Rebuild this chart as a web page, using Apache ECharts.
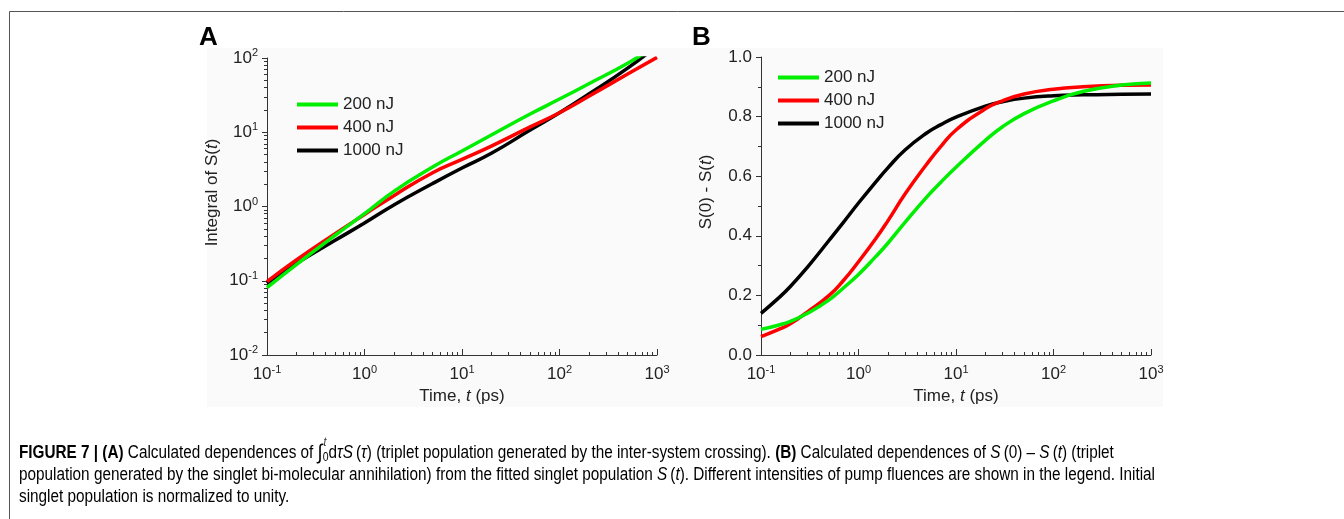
<!DOCTYPE html>
<html>
<head>
<meta charset="utf-8">
<title>Figure 7</title>
<script src="https://cdn.jsdelivr.net/npm/echarts@6.0.0/dist/echarts.min.js"></script>
<style>
html, body { margin: 0; padding: 0; background: #fff; }
#main { width: 1344px; height: 519px; }
</style>
</head>
<body>
<div id="main"></div>
<script>
var FONT = '"Liberation Sans", Arial, sans-serif';

// 图例
var names = ['200 nJ', '400 nJ', '1000 nJ'];
var colors = ['#00ee00', '#ff0000', '#000000'];

// (A) integral of S(t), log-log
var timeA = [0.1, 0.2, 0.5, 1, 2, 5, 10, 20, 50, 100, 200, 500, 1000];
var intGreen = [0.081, 0.165, 0.41, 0.8, 1.6, 3.4, 5.6, 9.2, 17.6, 28, 45, 85, 150];
var intRed = [0.097, 0.19, 0.43, 0.78, 1.4, 2.85, 4.3, 6.5, 11.8, 18.3, 30.5, 61, 102];
var intBlack = [0.092, 0.17, 0.35, 0.6, 1.05, 2.04, 3.3, 5.2, 10.7, 18.3, 32.7, 73, 146];

// (B) S(0) - S(t)
var timeB = [0.1, 0.15, 0.2, 0.3, 0.5, 0.7, 1, 1.5, 2, 3, 5, 7, 10, 20, 30, 50, 100, 200, 500, 1000];
var diffGreen = [0.086, 0.1, 0.113, 0.14, 0.185, 0.225, 0.27, 0.33, 0.375, 0.445, 0.53, 0.58, 0.63, 0.72, 0.766, 0.81, 0.853, 0.884, 0.906, 0.913];
var diffRed = [0.062, 0.085, 0.105, 0.145, 0.2, 0.25, 0.313, 0.39, 0.45, 0.54, 0.64, 0.7, 0.755, 0.826, 0.853, 0.876, 0.892, 0.9, 0.905, 0.906];
var diffBlack = [0.14, 0.19, 0.23, 0.295, 0.385, 0.445, 0.51, 0.58, 0.628, 0.688, 0.745, 0.773, 0.798, 0.835, 0.85, 0.862, 0.87, 0.873, 0.875, 0.876];

// 刻度
var xDecades = [0.1, 1, 10, 100, 1000];
var yDecadesA = [0.01, 0.1, 1, 10, 100];

// 图注
var caption = [
    [['b', 'FIGURE 7 | (A)'], ['r', ' Calculated dependences of '], ['int', '\u222B'], ['sub', '0'], ['r', 'd'], ['i', '\u03C4'], ['i', 'S'],
     ['r', '\u2009('], ['i', '\u03C4'], ['r', ') (triplet population generated by the inter-system crossing). '], ['b', '(B)'],
     ['r', ' Calculated dependences of '], ['i', 'S'], ['r', '\u2009(0) \u2013 '], ['i', 'S'], ['r', '\u2009('], ['i', 't'], ['r', ') (triplet']],
    [['r', 'population generated by the singlet bi-molecular annihilation) from the fitted singlet population '], ['i', 'S'], ['r', '\u2009('], ['i', 't'],
     ['r', '). Different intensities of pump fluences are shown in the legend. Initial']],
    [['r', 'singlet population is normalized to unity.']]
];

function pairs(t, v) {
    var out = [];
    for (var i = 0; i < t.length; i++) {
        out.push([t[i], v[i]]);
    }
    return out;
}

// 对数次刻度 2..9
function minorLog(decades) {
    var out = [];
    for (var i = 0; i < decades.length - 1; i++) {
        for (var m = 2; m <= 9; m++) {
            out.push(+(decades[i] * m).toPrecision(3));
        }
    }
    return out;
}

var supRich = {
    n: { fontSize: 17, fontFamily: FONT, color: '#222' },
    s: { fontSize: 11, fontFamily: FONT, color: '#222', padding: [0, 0, 10, 0] }
};
function powLabel(v) {
    var e = Math.round(Math.log(v) / Math.LN10);
    return '{n|10}{s|' + e + '}';
}

var nameStyle = {
    fontSize: 17, fontFamily: FONT, color: '#222',
    rich: { i: { fontSize: 17, fontFamily: FONT, color: '#222', fontStyle: 'italic' } }
};
var lineAx = { show: true, onZero: false, lineStyle: { color: '#333', width: 1 } };

function mainX(grid) {
    return {
        gridIndex: grid, type: 'log', logBase: 10, min: 0.1, max: 1000, position: 'bottom',
        axisLine: lineAx,
        axisTick: { show: true, inside: true, length: 6, lineStyle: { color: '#333' } },
        axisLabel: { formatter: powLabel, rich: supRich, margin: 9, showMinLabel: true, showMaxLabel: true },
        splitLine: { show: false },
        name: 'Time, {i|t} (ps)', nameLocation: 'middle', nameGap: 33, nameTextStyle: nameStyle
    };
}
function minorX(grid) {
    return {
        gridIndex: grid, type: 'log', logBase: 10, min: 0.1, max: 1000, position: 'bottom',
        axisLine: { show: false },
        axisTick: { show: true, inside: true, length: 3, customValues: minorLog(xDecades), lineStyle: { color: '#333' } },
        axisLabel: { show: false },
        splitLine: { show: false }
    };
}

// 图注 (测量宽度后横向压缩)
var capFonts = {
    r: { fontSize: 17.5, fontFamily: FONT, color: '#333' },
    b: { fontSize: 17.5, fontFamily: FONT, color: '#111', fontWeight: 'bold' },
    i: { fontSize: 17.5, fontFamily: FONT, color: '#333', fontStyle: 'italic' },
    sub: { fontSize: 12, fontFamily: FONT, color: '#333', padding: [10, 0, 0, 0] },
    int: { fontSize: 21, fontFamily: FONT, color: '#333' }
};
var ctx = document.createElement('canvas').getContext('2d');
function segWidth(seg) {
    var f = capFonts[seg[0]];
    ctx.font = (f.fontStyle || '') + ' ' + (f.fontWeight || '') + ' ' + f.fontSize + 'px ' + FONT;
    return ctx.measureText(seg[1]).width;
}
function lineWidth(line, upto) {
    var w = 0;
    for (var i = 0; i < (upto == null ? line.length : upto); i++) {
        w += segWidth(line[i]);
    }
    return w;
}
var capScale = (1155 - 19) / lineWidth(caption[1]);
var capY = [453, 475, 497];
var graphics = [
    { type: 'rect', z: -10, silent: true, shape: { x: 207, y: 48, width: 956, height: 359 }, style: { fill: '#fafafa' } },
    { type: 'rect', z: -10, silent: true, shape: { x: 9.5, y: 11.5, width: 1400, height: 600 }, style: { fill: null, stroke: '#555', lineWidth: 1 } },
    { type: 'text', x: 199, y: 38, style: { text: 'A', font: 'bold 26px ' + FONT, fill: '#000', verticalAlign: 'middle' } },
    { type: 'text', x: 692, y: 38, style: { text: 'B', font: 'bold 26px ' + FONT, fill: '#000', verticalAlign: 'middle' } }
];
for (var c = 0; c < caption.length; c++) {
    var str = '';
    for (var j = 0; j < caption[c].length; j++) {
        str += '{' + caption[c][j][0] + '|' + caption[c][j][1] + '}';
    }
    graphics.push({
        type: 'text', x: 19, y: capY[c], scaleX: capScale, originX: 0,
        style: { text: str, rich: capFonts, verticalAlign: 'middle', align: 'left' }
    });
}
// 积分上限 t
graphics.push({
    type: 'text', x: 19 + capScale * (lineWidth(caption[0], 3) + 1), y: capY[0] - 10, scaleX: capScale,
    style: { text: 't', font: 'italic 12px ' + FONT, fill: '#333', verticalAlign: 'middle' }
});

function lineSeries(name, color, data, xi, yi) {
    return {
        name: name, type: 'line', xAxisIndex: xi, yAxisIndex: yi, data: data,
        smooth: 0.5, showSymbol: false, symbol: 'none', color: color,
        lineStyle: { width: 3.5, color: color }, clip: true, animation: false
    };
}
var series = [];
var setsA = [intGreen, intRed, intBlack];
var setsB = [diffGreen, diffRed, diffBlack];
for (var k = 2; k >= 0; k--) {
    series.push(lineSeries(names[k], colors[k], pairs(timeA, setsA[k]), 0, 0));
}
for (var k = 2; k >= 0; k--) {
    series.push(lineSeries(names[k], colors[k], pairs(timeB, setsB[k]), 2, 2));
}

function legendAt(left, top) {
    return {
        left: left, top: top, orient: 'vertical', padding: 0, itemGap: 6,
        itemWidth: 41, itemHeight: 4, icon: 'rect', selectedMode: false, data: names,
        textStyle: { fontSize: 17, fontFamily: FONT, color: '#222', lineHeight: 16 }
    };
}

var myChart = echarts.init(document.getElementById('main'), null, { renderer: 'canvas' });
var option = {
    animation: false,
    backgroundColor: '#fff',
    graphic: graphics,
    legend: [legendAt(297, 96), legendAt(778, 69)],
    grid: [
        { left: 267, top: 58, width: 390, height: 297, outerBoundsMode: 'none', containLabel: false },
        { left: 761, top: 57, width: 390, height: 298, outerBoundsMode: 'none', containLabel: false }
    ],
    xAxis: [mainX(0), minorX(0), mainX(1), minorX(1)],
    yAxis: [
        {
            gridIndex: 0, type: 'log', logBase: 10, min: 0.01, max: 100, position: 'left',
            axisLine: lineAx,
            axisTick: { show: true, inside: false, length: 5, lineStyle: { color: '#333' } },
            axisLabel: { formatter: powLabel, rich: supRich, margin: 9, showMinLabel: true, showMaxLabel: true },
            splitLine: { show: false },
            name: 'Integral of S({i|t})', nameLocation: 'middle', nameGap: 46,
            nameTextStyle: Object.assign({ padding: [0, 0, 0, 28] }, nameStyle)
        },
        {
            gridIndex: 0, type: 'log', logBase: 10, min: 0.01, max: 100, position: 'left',
            axisLine: { show: false },
            axisTick: { show: true, inside: false, length: 3, customValues: minorLog(yDecadesA), lineStyle: { color: '#333' } },
            axisLabel: { show: false },
            splitLine: { show: false }
        },
        {
            gridIndex: 1, type: 'value', min: 0, max: 1, interval: 0.2, position: 'left',
            axisLine: lineAx,
            axisTick: { show: true, inside: false, length: 5, lineStyle: { color: '#333' } },
            minorTick: { show: true, splitNumber: 2, length: 3, lineStyle: { color: '#333' } },
            axisLabel: {
                formatter: function (v) { return v.toFixed(1); }, margin: 9,
                fontSize: 17, fontFamily: FONT, color: '#222', showMinLabel: true, showMaxLabel: true
            },
            splitLine: { show: false },
            name: 'S(0) - S({i|t})', nameLocation: 'middle', nameGap: 46,
            nameTextStyle: Object.assign({ padding: [0, 0, 0, 28] }, nameStyle)
        }
    ],
    series: series
};
myChart.setOption(option);
</script>
</body>
</html>
